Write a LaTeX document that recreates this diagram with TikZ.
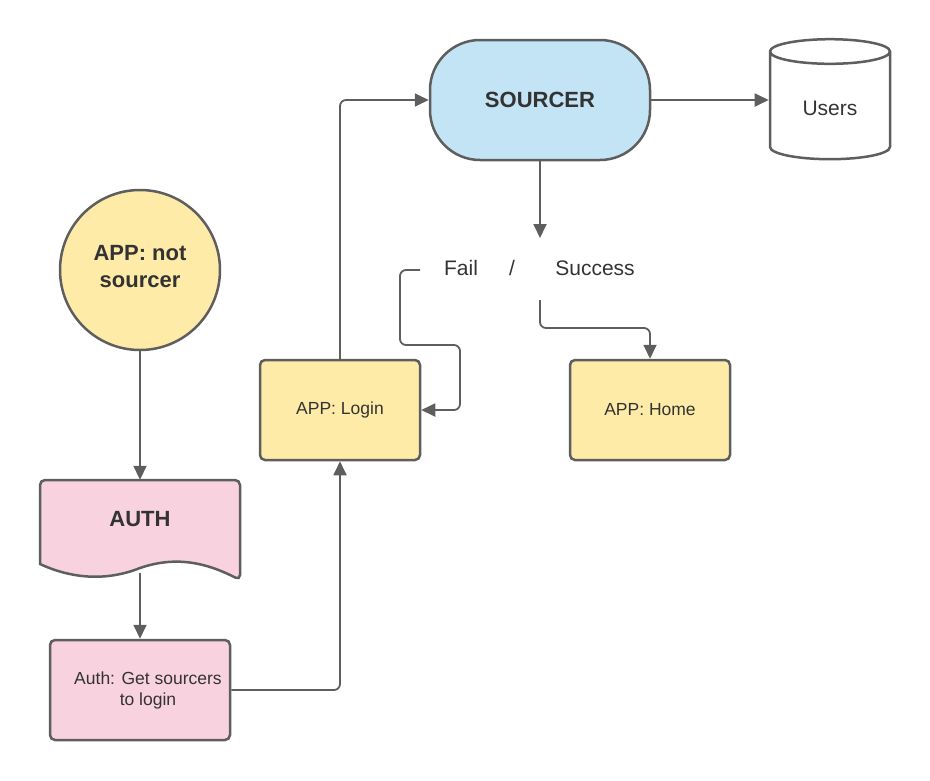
\documentclass[tikz,border=0pt]{standalone}
\usepackage{fontspec}
\setmainfont{Liberation Sans}
\usetikzlibrary{arrows.meta,positioning,shapes.geometric}
\definecolor{edge}{HTML}{5E5E5E}
\definecolor{ink}{HTML}{333333}
\definecolor{appyellow}{HTML}{FFEBA8}
\definecolor{authpink}{HTML}{F8D2DE}
\definecolor{srcblue}{HTML}{C3E4F5}

\begin{document}
\begin{tikzpicture}[x=1pt, y=-1pt, >={Triangle[length=14pt,width=13pt]}]
  \tikzset{
    box/.style={draw=edge, line width=2.5pt, rounded corners=5pt, minimum width=160pt, minimum height=100pt, text=ink, font=\fontsize{17.5}{21}\selectfont},
    big/.style={text=ink, font=\fontsize{21}{25}\selectfont},
    bold/.style={text=ink, font=\fontsize{22}{27}\selectfont\bfseries},
    link/.style={draw=edge, line width=1.8pt, rounded corners=6pt},
  }
  \useasboundingbox (0,0) rectangle (930,780);

  % document shape behind AUTH
  \filldraw[fill=authpink, draw=edge, line width=2.5pt, rounded corners=5pt]
    (40,564) -- (40,480) -- (240,480) -- (240,580) [sharp corners]
    .. controls (205,562) and (175,556) .. (140,568)
    .. controls (105,582) and (70,578) .. (40,564) -- cycle;

  \node[circle, draw=edge, line width=2.5pt, fill=appyellow, minimum size=160pt, align=center, text depth=8pt, bold] (notsrc) at (140,270) {APP: not\\sourcer};
  \node[minimum width=200pt, minimum height=78pt, bold] (auth) at (140,519) {AUTH};
  \node[box, fill=authpink, minimum width=180pt, align=center] (getsrc) at (140,690) {\hspace*{16pt}Auth: Get sourcers\\\hspace*{16pt}to login};
  \node[box, fill=appyellow] (login) at (340,410) {APP: Login};
  \node[box, fill=appyellow] (home) at (650,410) {APP: Home};
  \node[draw=edge, line width=2.5pt, fill=srcblue, rounded corners=50pt, minimum width=220pt, minimum height=120pt, bold] (sourcer) at (540,100) {SOURCER};
  \node[cylinder, shape border rotate=90, aspect=0.4, draw=edge, line width=2.5pt, minimum width=120pt, minimum height=120pt, big] (users) at (830,108) {Users};

  \node[big] (fail) at (461,268) {Fail};
  \node[big] (slash) at (512,268) {/};
  \node[big] (success) at (595,268) {Success};
  \coordinate (split) at (540,238);
  \coordinate (failout) at (420,270);
  \coordinate (succout) at (540,300);

  \draw[link,->] (notsrc) -- (auth);
  \draw[link,->] ([yshift=-15pt]auth.south) -- (getsrc);
  \draw[link,->] (getsrc.east) -| (login.south);
  \draw[link,->] (login.north) |- (sourcer.west);
  \draw[link,->] (sourcer.east) -- (sourcer.east -| users.west);
  \draw[link,->] (sourcer.south) -- (split);
  \draw[link,->] (failout) -- (400,270) -- (400,345) -- (460,345) |- (login.east);
  \draw[link,->] (succout) -- (540,328) -| (home.north);
\end{tikzpicture}
\end{document}
